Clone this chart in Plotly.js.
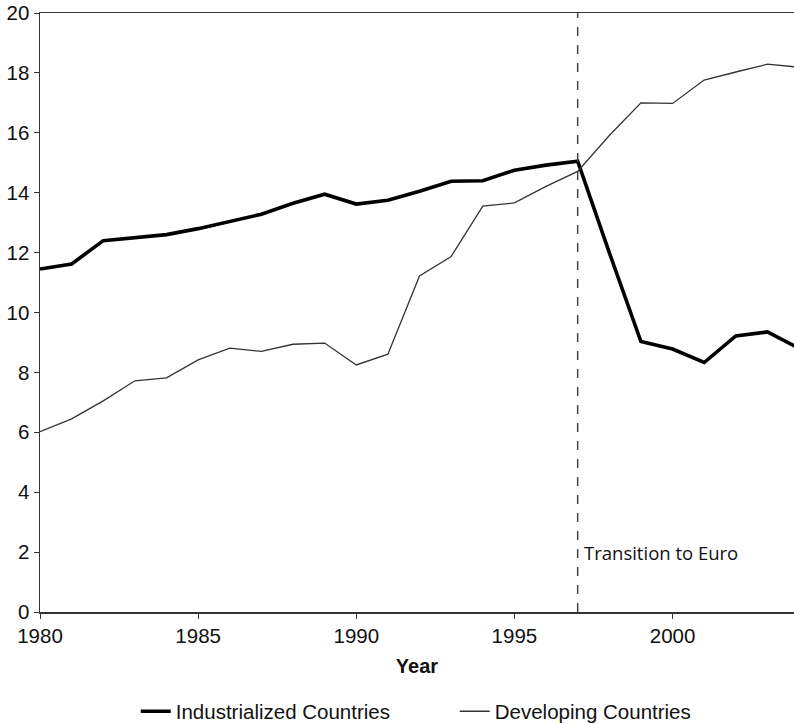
<!DOCTYPE html>
<html>
<head>
<meta charset="utf-8">
<script src="https://cdn.plot.ly/plotly-3.0.1.min.js"></script>
<style>html,body{margin:0;padding:0;background:#fff;overflow:hidden}#chart{width:794px;height:724px}</style>
</head>
<body>
<div id="chart"></div>
<script>
var years = [1980,1981,1982,1983,1984,1985,1986,1987,1988,1989,1990,1991,1992,1993,1994,1995,1996,1997,1998,1999,2000,2001,2002,2003,2004];
var industrialized = [11.45,11.62,12.4,12.5,12.6,12.8,13.05,13.28,13.65,13.95,13.62,13.75,14.05,14.38,14.4,14.75,14.92,15.05,12.0,9.03,8.78,8.33,9.22,9.35,8.8];
var developing = [6.02,6.45,7.05,7.72,7.82,8.42,8.81,8.7,8.94,8.98,8.25,8.61,11.22,11.87,13.55,13.66,14.21,14.71,15.91,17.0,16.98,17.76,18.03,18.29,18.19];
var seriesNames = ["Industrialized Countries","Developing Countries"];
var transitionYear = 1997;
var transitionLabel = "Transition to Euro";
var xTicks = [1980,1985,1990,1995,2000];
var yTicks = [0,2,4,6,8,10,12,14,16,18,20];

var font = "Liberation Sans, Arial, sans-serif";
var traces = [
  {x: years, y: industrialized, name: seriesNames[0], mode: "lines", line: {color: "#000", width: 3.6}},
  {x: years, y: developing, name: seriesNames[1], mode: "lines", line: {color: "#333", width: 1.3}}
];
var layout = {
  width: 794, height: 724,
  margin: {l: 40, r: 0, t: 13, b: 112, autoexpand: false},
  paper_bgcolor: "#fff", plot_bgcolor: "#fff",
  font: {family: font, size: 20, color: "#111"},
  showlegend: true,
  legend: {orientation: "h", x: 0.127, xanchor: "left", y: -0.166, yanchor: "middle",
           font: {family: font, size: 20.5, color: "#111"}, entrywidth: 274, entrywidthmode: "pixels",
           bgcolor: "rgba(0,0,0,0)"},
  xaxis: {range: [1980, 2003.84], tickvals: xTicks, ticktext: xTicks.map(String),
          showgrid: false, zeroline: false, showline: true, linecolor: "#333", linewidth: 1.5,
          mirror: true, ticks: "outside", ticklen: 5, tickcolor: "#333", tickwidth: 1,
          tickfont: {family: font, size: 20.5, color: "#111"},
          title: {text: "<b>Year</b>", font: {family: font, size: 20, color: "#111"}, standoff: 13}},
  yaxis: {range: [0, 20], tickvals: yTicks, showgrid: false, zeroline: false,
          showline: true, linecolor: "#333", linewidth: 1.5, ticks: "outside", ticklen: 5,
          tickcolor: "#333", tickwidth: 1, tickfont: {family: font, size: 20.5, color: "#111"}},
  shapes: [{type: "line", xref: "x", yref: "paper", x0: transitionYear, x1: transitionYear, y0: 0, y1: 1,
            line: {color: "#444", width: 1.5, dash: "dash"}}],
  annotations: [{x: transitionYear, y: 2.0, xref: "x", yref: "y", text: transitionLabel, showarrow: false,
                 xanchor: "left", yanchor: "middle", xshift: 4,
                 font: {family: "Open Sans, sans-serif", size: 18.5, color: "#111"}}]
};
Plotly.newPlot("chart", traces, layout, {displayModeBar: false, staticPlot: true});
</script>
</body>
</html>
